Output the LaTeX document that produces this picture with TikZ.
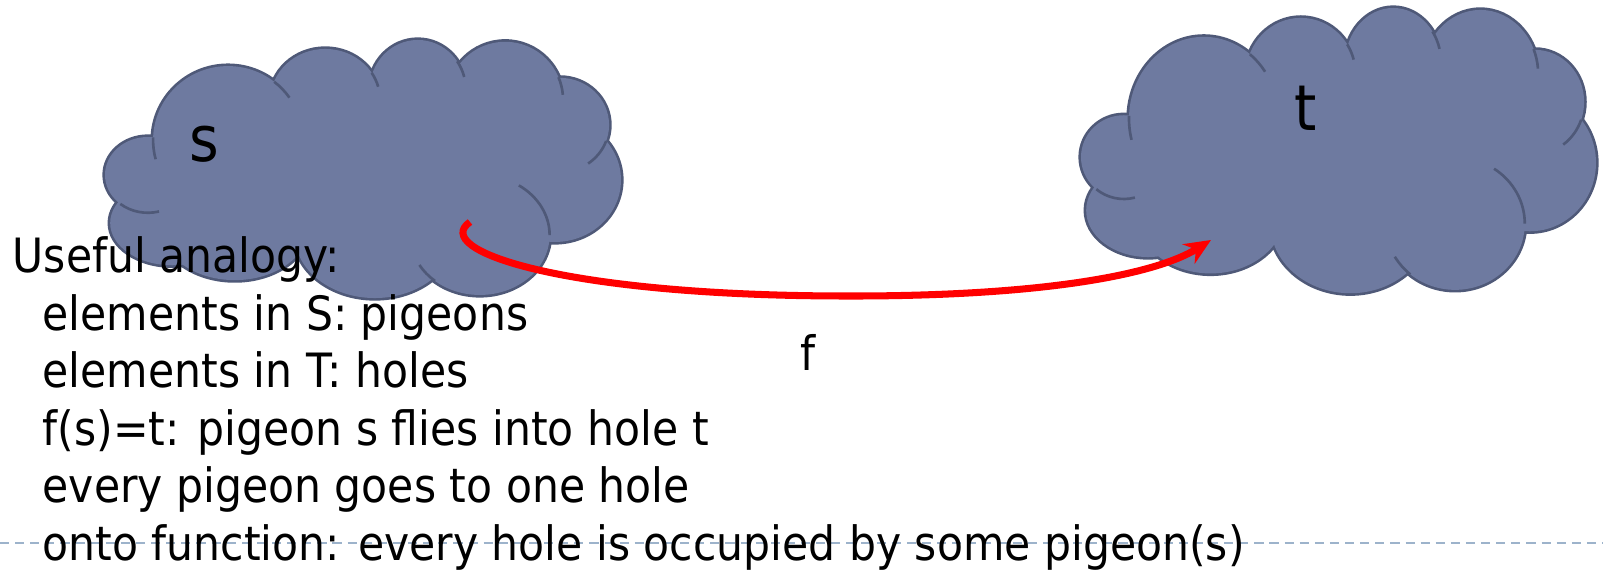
\documentclass[tikz,border=0pt]{standalone}
\usepackage{fontspec}
\setmainfont{DejaVu Sans}[FakeStretch=0.9]
\usepackage{tikz}
\usetikzlibrary{arrows.meta}
\definecolor{Nube}{HTML}{6E7AA0}
\definecolor{NubeBorde}{HTML}{4F5978}
\definecolor{GrisAzul}{HTML}{9DB3CB}

% bolas de la nube (centro u/v, radios), en la caja unidad
\newcommand{\listabolas}{0.083/0.527/0.083/0.148, 0.238/0.391/0.145/0.289,
  0.426/0.234/0.106/0.199, 0.605/0.195/0.093/0.195, 0.774/0.234/0.112/0.227,
  0.880/0.332/0.095/0.184, 0.870/0.547/0.128/0.242, 0.725/0.762/0.135/0.234,
  0.522/0.762/0.155/0.246, 0.251/0.723/0.145/0.215, 0.130/0.715/0.120/0.165}
% arcos interiores (centro, radios, angulos)
\newcommand{\listaarcos}{0.083/0.527/0.083/0.148/130/75,
  0.725/0.762/0.135/0.234/-56/0, 0.880/0.332/0.095/0.184/20/55,
  0.238/0.391/0.145/0.289/-52/-35, 0.426/0.234/0.106/0.199/-32/-15,
  0.605/0.195/0.093/0.195/-35/-15, 0.774/0.234/0.112/0.227/-23/-5,
  0.725/0.762/0.135/0.234/130/150, 0.238/0.391/0.145/0.289/182/165}
\newcommand{\nube}[1]{%
  \begin{scope}[#1]
    \foreach \cx/\cy/\rx/\ry in \listabolas
      \path[borde] (\cx,\cy) ellipse [x radius=\rx, y radius=\ry];
    \fill[Nube] (0.5,0.5) ellipse [x radius=0.36, y radius=0.30];
    \foreach \cx/\cy/\rx/\ry in \listabolas
      \path[relleno] (\cx,\cy) ellipse [x radius=\rx, y radius=\ry];
    \foreach \cx/\cy/\rx/\ry/\a/\b in \listaarcos
      \draw[interior] (\cx,\cy) ++({\rx*cos(\a)},{\ry*sin(\a)})
        arc [start angle=\a, end angle=\b, x radius=\rx, y radius=\ry];
  \end{scope}}

\begin{document}
\begin{tikzpicture}[
  every node/.style={inner sep=0pt},
  texto/.style={font=\fontsize{13.45}{16}\selectfont,anchor=base west},
  etiqueta/.style={font=\fontsize{18}{22}\selectfont},
  flecha/.style={-{Stealth[length=7.5pt,width=6.5pt]},line width=2pt,draw=red},
  borde/.style={draw=NubeBorde,line width=1.5pt},
  relleno/.style={fill=Nube},
  interior/.style={draw=NubeBorde,line width=0.75pt},
  guiones/.style={draw=GrisAzul,line width=0.6pt,dash pattern=on 2.6pt off 1.7pt}
]
  \useasboundingbox (0,0) rectangle (16.03,5.70);

  % Conjuntos S y T.
  \nube{shift={(1.05,5.30)},xscale=5.17,yscale=-2.56}
  \nube{shift={(10.81,5.62)},xscale=5.16,yscale=-2.83}
  \node[etiqueta] (s) at (2.04,4.26) {s};
  \node[etiqueta] (t) at (13.06,4.62) {t};

  % La funcion f.
  \coordinate (fini) at (4.70,3.48);
  \coordinate (ffin) at (12.11,3.30);
  \draw[flecha] (fini) .. controls (4.30,3.20) and (5.60,2.75) .. (8.38,2.74)
    .. controls (10.4,2.73) and (11.55,2.95) .. (ffin);
  \node[font=\fontsize{13.5}{16}\selectfont] (f) at (8.08,2.18) {f};

  % Linea de pie.
  \coordinate (pieizq) at (0,0.27);
  \coordinate (pieder) at (16.03,0.27);
  \draw[guiones] (pieizq) -- (pieder);

  % Analogia.
  \node[texto] (l1) at (0.12,2.97) {Useful analogy:};
  \node[texto] (l2) at (0.42,2.395) {elements in S: pigeons};
  \node[texto] (l3) at (0.42,1.82) {elements in T: holes};
  \node[texto] (l4) at (0.42,1.245) {f(s)=t: pigeon s flies into hole t};
  \node[texto] (l5) at (0.42,0.67) {every pigeon goes to one hole};
  \node[texto] (l6) at (0.42,0.095) {onto function: every hole is occupied by some pigeon(s)};
\end{tikzpicture}
\end{document}
